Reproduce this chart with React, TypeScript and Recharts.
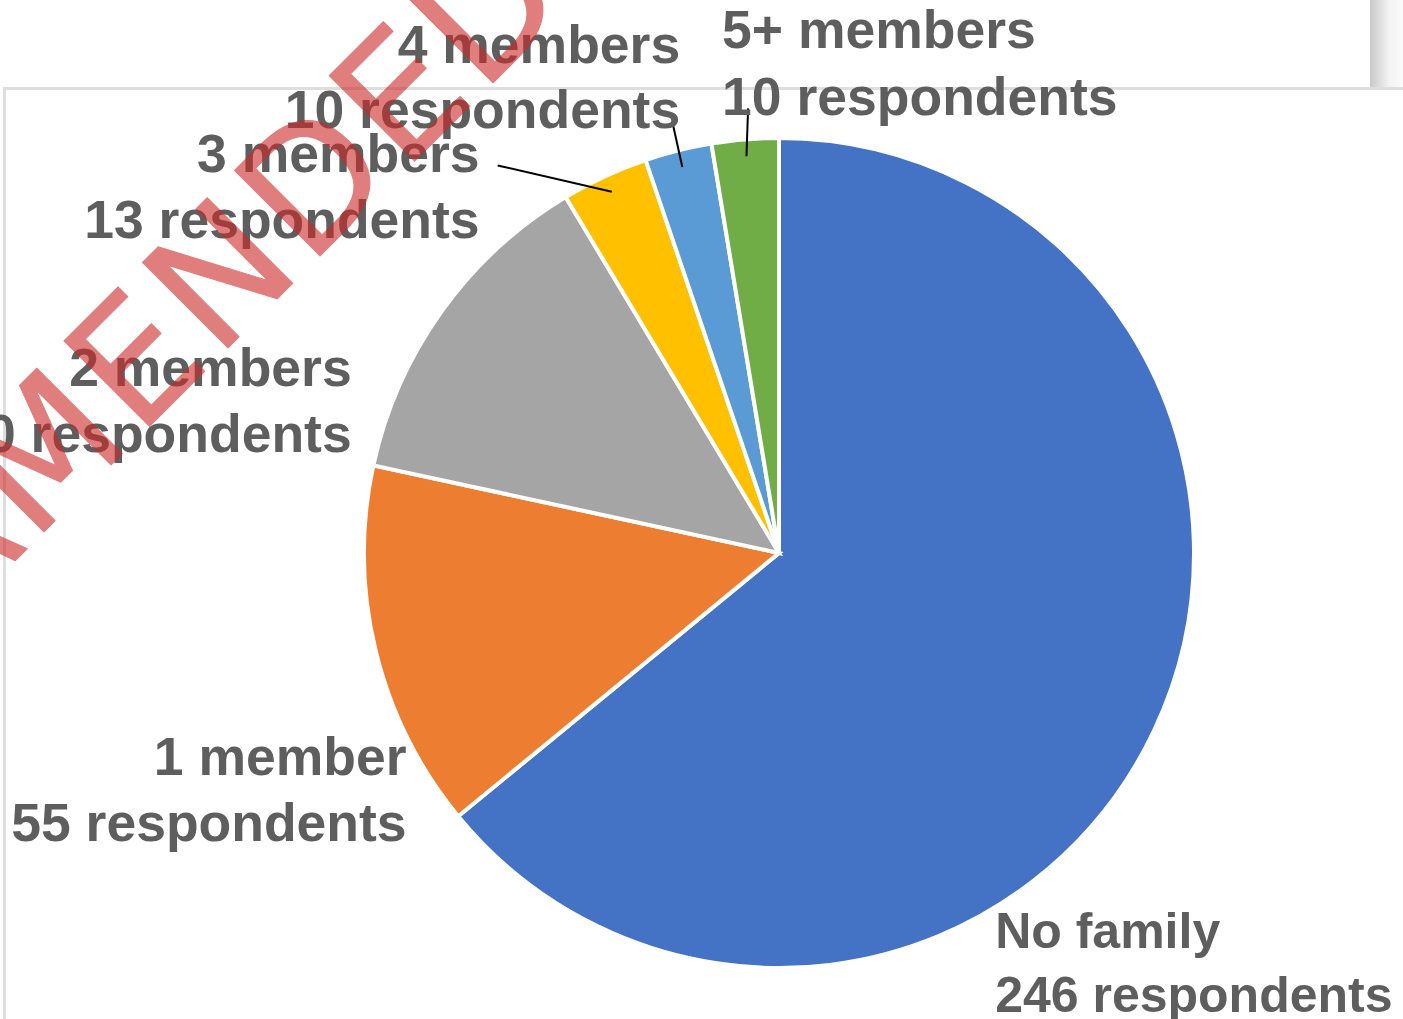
import { PieChart, Pie, Cell } from "recharts";

const CATEGORIES = ["No family", "1 member", "2 members", "3 members", "4 members", "5+ members"];
const RESPONDENTS = [246, 55, 50, 13, 10, 10];
const COLORS = ["#4472C4", "#ED7D31", "#A5A5A5", "#FFC000", "#5B9BD5", "#70AD47"];

// label placement relative to the slice's outer point (dx, dy = first baseline)
const LABEL_LAYOUT = [
  { dx: -159, dy: 218, anchor: "start", size: 50, gap: 64, line: null },
  { dx: 31, dy: 124, anchor: "end", size: 53.5, gap: 66, line: null },
  { dx: -90, dy: 75, anchor: "end", size: 53.5, gap: 66, line: null },
  { dx: -125, dy: -4, anchor: "end", size: 53.5, gap: 66, line: { dx: -107, dy: -11 } },
  { dx: 2, dy: -87, anchor: "end", size: 53.5, gap: 65, line: { dx: -5, dy: -25 } },
  { dx: -23, dy: -91, anchor: "start", size: 53.5, gap: 67, line: { dx: 3, dy: -31 } },
];

const data = CATEGORIES.map((name, i) => ({ name, value: RESPONDENTS[i] }));

const TEXT = "#5E5E5E";
const RAD = Math.PI / 180;

function renderLabel(props: any) {
  const { cx, cy, midAngle, outerRadius, index } = props;
  const cos = Math.cos(-midAngle * RAD);
  const sin = Math.sin(-midAngle * RAD);
  const ox = cx + outerRadius * cos;
  const oy = cy + outerRadius * sin;
  const lay = LABEL_LAYOUT[index];
  const x = ox + lay.dx;
  const y = oy + lay.dy;
  return (
    <g key={`lbl-${index}`}>
      {lay.line && (
        <line
          x1={cx + (outerRadius - 17) * cos}
          y1={cy + (outerRadius - 17) * sin}
          x2={ox + lay.line.dx}
          y2={oy + lay.line.dy}
          stroke="#000"
          strokeWidth={2}
        />
      )}
      <text
        x={x}
        y={y}
        textAnchor={lay.anchor}
        fill={TEXT}
        fontSize={lay.size}
        fontWeight="bold"
        fontFamily="'Liberation Sans', Arial, sans-serif"
      >
        <tspan x={x} dy={0}>{CATEGORIES[index]}</tspan>
        <tspan x={x} dy={lay.gap}>{`${RESPONDENTS[index]} respondents`}</tspan>
      </text>
    </g>
  );
}

export default function App() {
  return (
    <div
      style={{
        position: "absolute",
        left: 0,
        top: 0,
        width: 1403,
        height: 1019,
        overflow: "hidden",
        background: "#fff",
      }}
    >
      {/* window frame */}
      <div style={{ position: "absolute", left: 3, top: 87, width: 1400, height: 3, background: "#dedede" }} />
      <div style={{ position: "absolute", left: 3, top: 87, width: 3, height: 932, background: "#dedede" }} />
      <div
        style={{
          position: "absolute",
          left: 1370,
          top: 0,
          width: 33,
          height: 87,
          background: "linear-gradient(to right, #c9c9c9, #f4f4f4 60%, #fafafa)",
        }}
      />
      <div style={{ position: "absolute", left: 0, top: 0 }}>
        <PieChart width={1403} height={1019} margin={{ top: 0, right: 0, bottom: 0, left: 0 }}>
          <Pie
            data={data}
            dataKey="value"
            nameKey="name"
            cx={779}
            cy={553}
            outerRadius={415}
            startAngle={90}
            endAngle={-270}
            stroke="#fff"
            strokeWidth={4}
            label={renderLabel}
            labelLine={false}
            isAnimationActive={false}
          >
            {data.map((d, i) => (
              <Cell key={d.name} fill={COLORS[i]} />
            ))}
          </Pie>
        </PieChart>
      </div>
      {/* stamp overlay */}
      <svg
        width={1403}
        height={1019}
        style={{ position: "absolute", left: 0, top: 0, pointerEvents: "none" }}
      >
        <g opacity={0.6}>
          <text
            x={0}
            y={0}
            transform="translate(-52 628) rotate(-45)"
            fontSize={166}
            letterSpacing={6}
            fontFamily="'DejaVu Sans', sans-serif"
            fill="#CD2828"
            stroke="#CD2828"
            strokeWidth={1}
            strokeLinejoin="round"
          >
            AMENDED
          </text>
        </g>
      </svg>
    </div>
  );
}
